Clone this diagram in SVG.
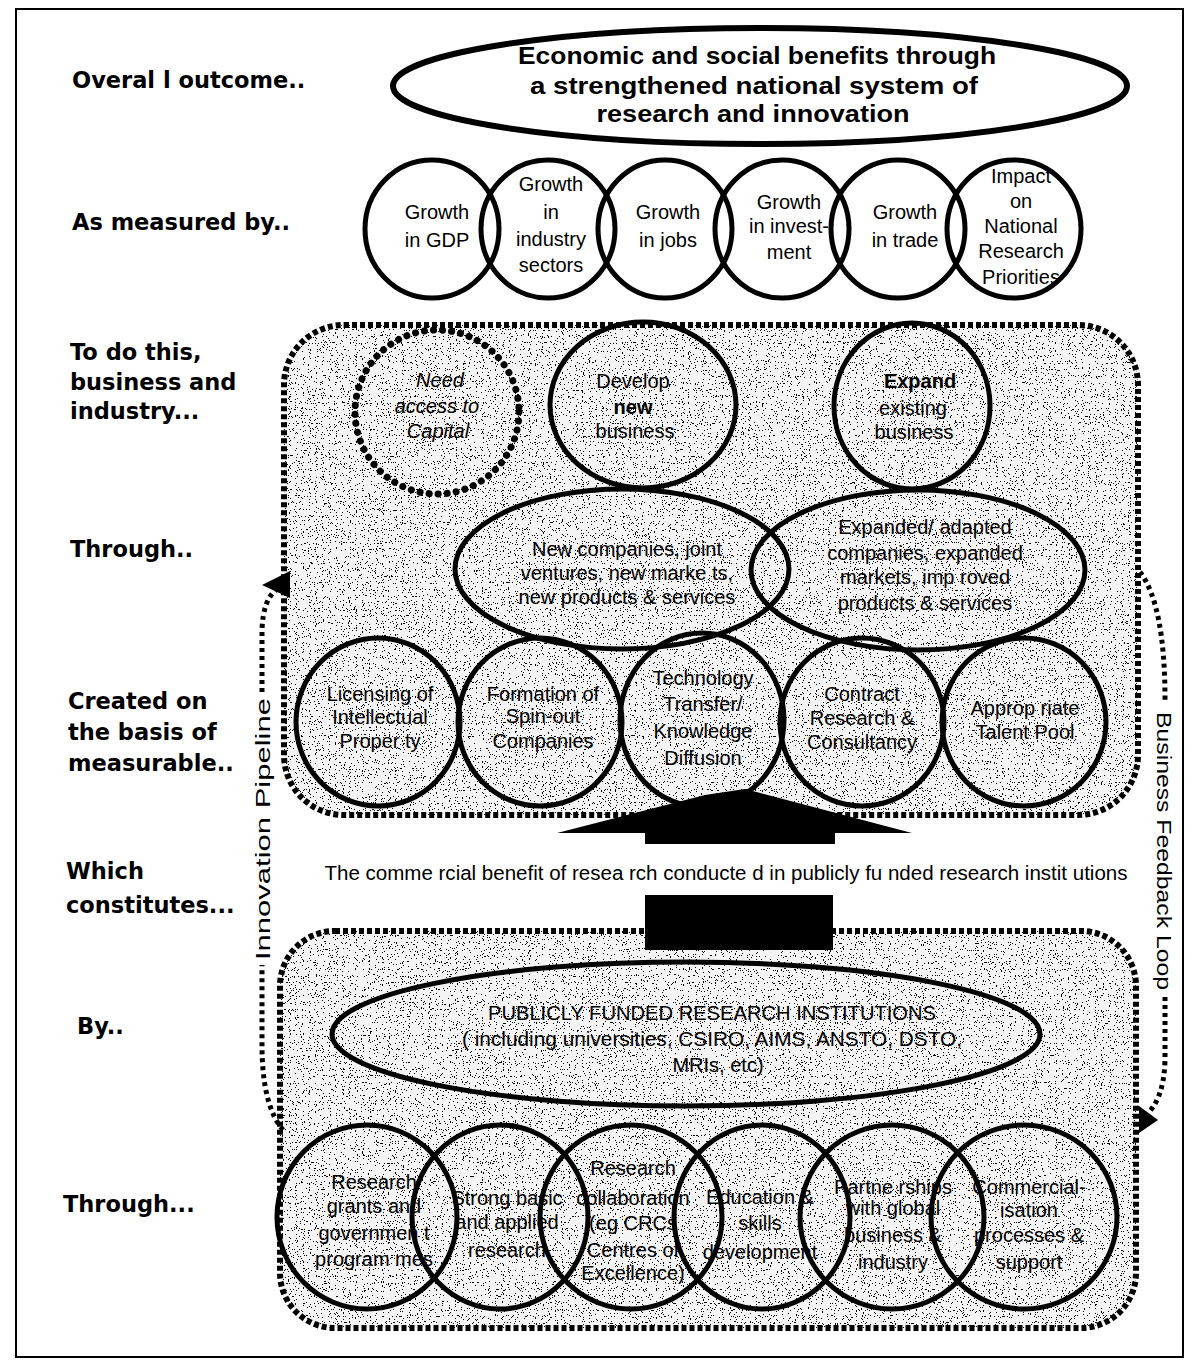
<svg xmlns="http://www.w3.org/2000/svg" width="1193" height="1361" viewBox="0 0 1193 1361">
<style>
.lbl{font-family:"DejaVu Sans",Verdana,sans-serif;font-weight:bold;font-size:22.5px;fill:#000}
.t{font-family:"Liberation Sans",Arial,sans-serif;font-size:20px;text-anchor:middle;fill:#000}
.tb{font-family:"Liberation Sans",Arial,sans-serif;font-size:24px;font-weight:bold;text-anchor:middle;fill:#000}
.node{fill:none;stroke:#000;stroke-width:5}
.panelfill{fill:#f4f4f4;filter:url(#grain)}
.panelborder{fill:none;stroke:#000;stroke-width:6;stroke-dasharray:5 3}
.dots{fill:none;stroke:#000;stroke-width:5;stroke-dasharray:4 4}
</style>
<defs>
<filter id="grain" x="0" y="0" width="1" height="1">
<feTurbulence type="fractalNoise" baseFrequency="0.85" numOctaves="1" seed="7" result="noise"/>
<feColorMatrix in="noise" type="matrix" values="0 0 0 0 0  0 0 0 0 0  0 0 0 0 0  1 0 0 0 0" result="a"/>
<feComponentTransfer in="a" result="d"><feFuncA type="discrete" tableValues="0 0 0 0 0 0 0 0 0 0 0 0 0 1 1 1 1 1 1 1"/></feComponentTransfer>
<feComposite in="d" in2="SourceGraphic" operator="in" result="c"/>
<feMerge><feMergeNode in="SourceGraphic"/><feMergeNode in="c"/></feMerge>
</filter>
</defs>
<rect x="16" y="9" width="1167" height="1348" fill="#fff" stroke="#000" stroke-width="2"/>

<g id="labels">
<text class="lbl" x="72" y="88">Overal l outcome..</text>
<text class="lbl" x="72" y="230">As measured by..</text>
<text class="lbl" x="70" y="360">To do this,</text>
<text class="lbl" x="70" y="390">business and</text>
<text class="lbl" x="70" y="419">industry...</text>
<text class="lbl" x="70" y="557">Through..</text>
<text class="lbl" x="68" y="709">Created on</text>
<text class="lbl" x="68" y="740">the basis of</text>
<text class="lbl" x="68" y="771">measurable..</text>
<text class="lbl" x="66" y="879">Which</text>
<text class="lbl" x="66" y="913">constitutes...</text>
<text class="lbl" x="77" y="1034">By..</text>
<text class="lbl" x="63" y="1212">Through...</text>
</g>

<g id="panels">
<rect class="panelfill" x="284" y="325" width="854" height="490" rx="60"/>
<rect class="panelfill" x="280" y="931" width="856" height="397" rx="55"/>
<rect class="panelborder" x="284" y="325" width="854" height="490" rx="60"/>
<rect class="panelborder" x="280" y="931" width="856" height="397" rx="55"/>
</g>

<g id="outcome">
<ellipse cx="760" cy="86" rx="367" ry="58" fill="#fff" stroke="#000" stroke-width="6"/>
<text class="tb" x="757" y="64" textLength="478" lengthAdjust="spacingAndGlyphs">Economic and social benefits through</text>
<text class="tb" x="754" y="94" textLength="448" lengthAdjust="spacingAndGlyphs">a strengthened national system of</text>
<text class="tb" x="753" y="122" textLength="313" lengthAdjust="spacingAndGlyphs">research and innovation</text>
</g>

<g id="measures">
<g id="m1"><ellipse class="node" cx="432" cy="229" rx="67" ry="69"/><text class="t" x="437" y="219">Growth</text><text class="t" x="437" y="247">in GDP</text></g>
<g id="m2"><ellipse class="node" cx="548" cy="229" rx="67" ry="69"/><text class="t" x="551" y="191">Growth</text><text class="t" x="551" y="219">in</text><text class="t" x="551" y="246">industry</text><text class="t" x="551" y="272">sectors</text></g>
<g id="m3"><ellipse class="node" cx="665" cy="229" rx="67" ry="69"/><text class="t" x="668" y="219">Growth</text><text class="t" x="668" y="247">in jobs</text></g>
<g id="m4"><ellipse class="node" cx="782" cy="229" rx="67" ry="69"/><text class="t" x="789" y="209">Growth</text><text class="t" x="789" y="233">in invest-</text><text class="t" x="789" y="259">ment</text></g>
<g id="m5"><ellipse class="node" cx="898" cy="229" rx="67" ry="69"/><text class="t" x="905" y="219">Growth</text><text class="t" x="905" y="247">in trade</text></g>
<g id="m6"><ellipse class="node" cx="1014" cy="229" rx="67" ry="69"/><text class="t" x="1021" y="183">Impact</text><text class="t" x="1021" y="208">on</text><text class="t" x="1021" y="233">National</text><text class="t" x="1021" y="258">Research</text><text class="t" x="1021" y="284">Priorities</text></g>
</g>

<g id="business">
<g id="capital"><circle cx="437" cy="412" r="82" fill="none" stroke="#000" stroke-width="7" stroke-linecap="round" stroke-dasharray="0.1 9"/><text class="t" x="440" y="387" font-style="italic">Need</text><text class="t" x="437" y="413" font-style="italic">access to</text><text class="t" x="438" y="438" font-style="italic">Capital</text></g>
<g id="develop"><ellipse class="node" cx="643" cy="405" rx="93" ry="83"/><text class="t" x="633" y="388">Develop</text><text class="t" x="633" y="414" font-weight="bold">new</text><text class="t" x="635" y="438">business</text></g>
<g id="expand"><ellipse class="node" cx="912" cy="406" rx="78" ry="83"/><text class="t" x="920" y="388" font-weight="bold">Expand</text><text class="t" x="913" y="415">existing</text><text class="t" x="914" y="439">business</text></g>
<g id="newco"><ellipse class="node" cx="622" cy="569" rx="167" ry="80"/><text class="t" x="627" y="556">New companies, joint</text><text class="t" x="627" y="580">ventures, new  marke ts,</text><text class="t" x="627" y="604">new products &amp; services</text></g>
<g id="expco"><ellipse class="node" cx="918" cy="570" rx="167" ry="80"/><text class="t" x="925" y="534">Expanded/  adapted</text><text class="t" x="925" y="560">companies, expanded</text><text class="t" x="925" y="584">markets, imp roved</text><text class="t" x="925" y="610">products &amp; services</text></g>
<g id="licensing"><ellipse class="node" cx="378" cy="722" rx="82" ry="84"/><text class="t" x="380" y="701">Licensing of</text><text class="t" x="380" y="724">Intellectual</text><text class="t" x="380" y="748">Proper ty</text></g>
<g id="formation"><ellipse class="node" cx="540" cy="722" rx="82" ry="84"/><text class="t" x="543" y="701">Formation  of</text><text class="t" x="543" y="723">Spin-out</text><text class="t" x="543" y="748">Companies</text></g>
<g id="technology"><ellipse class="node" cx="702" cy="720" rx="82" ry="87"/><text class="t" x="703" y="685">Technology</text><text class="t" x="703" y="711">Transfer/</text><text class="t" x="703" y="738">Knowledge</text><text class="t" x="703" y="765">Diffusion</text></g>
<g id="contract"><ellipse class="node" cx="862" cy="722" rx="82" ry="84"/><text class="t" x="862" y="701">Contract</text><text class="t" x="862" y="725">Research &amp;</text><text class="t" x="862" y="749">Consultancy</text></g>
<g id="talent"><ellipse class="node" cx="1024" cy="722" rx="82" ry="84"/><text class="t" x="1025" y="715">Approp riate</text><text class="t" x="1025" y="739">Talent Pool</text></g>
</g>

<g id="pfri">
<ellipse class="node" cx="686" cy="1034" rx="354" ry="72"/>
<text class="t" x="712" y="1020" font-size="18" textLength="448" lengthAdjust="spacingAndGlyphs">PUBLICLY FUNDED RESEARCH INSTITUTIONS</text>
<text class="t" x="712" y="1046" font-size="18" textLength="500" lengthAdjust="spacingAndGlyphs">( including universities, CSIRO, AIMS, ANSTO, DSTO,</text>
<text class="t" x="718" y="1072" font-size="18">MRIs, etc)</text>
</g>

<g id="means">
<g id="b1"><ellipse class="node" cx="367" cy="1217" rx="90" ry="92"/><text class="t" x="374" y="1189">Research</text><text class="t" x="374" y="1213">grants and</text><text class="t" x="374" y="1240">governmen t</text><text class="t" x="374" y="1266">program mes</text></g>
<g id="b2"><ellipse class="node" cx="500" cy="1217" rx="88" ry="92"/><text class="t" x="507" y="1205">Strong  basic</text><text class="t" x="507" y="1229">and applied</text><text class="t" x="507" y="1257">research</text></g>
<g id="b3"><ellipse class="node" cx="631" cy="1217" rx="91" ry="92"/><text class="t" x="633" y="1175">Research</text><text class="t" x="633" y="1205">collaboration</text><text class="t" x="633" y="1230">(eg CRCs</text><text class="t" x="633" y="1257">Centres of</text><text class="t" x="633" y="1280">Excellence)</text></g>
<g id="b4"><ellipse class="node" cx="762" cy="1217" rx="88" ry="92"/><text class="t" x="760" y="1204">Education &amp;</text><text class="t" x="760" y="1230">skills</text><text class="t" x="760" y="1259">development</text></g>
<g id="b5"><ellipse class="node" cx="892" cy="1217" rx="92" ry="92"/><text class="t" x="893" y="1194">Partne rships</text><text class="t" x="893" y="1215">with global</text><text class="t" x="893" y="1242">business &amp;</text><text class="t" x="893" y="1269">industry</text></g>
<g id="b6"><ellipse class="node" cx="1024" cy="1217" rx="93" ry="92"/><text class="t" x="1029" y="1194">Commercial-</text><text class="t" x="1029" y="1217">isation</text><text class="t" x="1029" y="1242">processes &amp;</text><text class="t" x="1029" y="1269">support</text></g>
</g>

<g id="connectors">
<path d="M557,833 L705,795 L745,789 L912,833 Z" fill="#000"/>
<rect x="645" y="825" width="190" height="19" fill="#000"/>
<rect x="645" y="895" width="188" height="55" fill="#000"/>
<text class="t" x="726" y="880" textLength="803" lengthAdjust="spacingAndGlyphs">The comme rcial benefit of resea rch conducte d in publicly fu nded  research instit utions</text>
<path class="dots" d="M283,1130 Q262,1105 262,1045 L262,965"/>
<path class="dots" d="M262,692 L262,630 Q263,600 276,590"/>
<polygon points="262,585 290,571 290,598" fill="#000"/>
<text class="t" x="0" y="0" transform="translate(270,829) rotate(-90)" font-size="26" textLength="262" lengthAdjust="spacingAndGlyphs">Innovation Pipeline</text>
<path class="dots" d="M1140,572 Q1165,605 1165,700"/>
<path class="dots" d="M1165,997 L1165,1060 Q1164,1100 1145,1116"/>
<polygon points="1139,1106 1158,1120 1139,1133" fill="#000"/>
<text class="t" x="0" y="0" transform="translate(1157,851) rotate(90)" font-size="25" textLength="278" lengthAdjust="spacingAndGlyphs">Business Feedback Loop</text>
</g>
</svg>
